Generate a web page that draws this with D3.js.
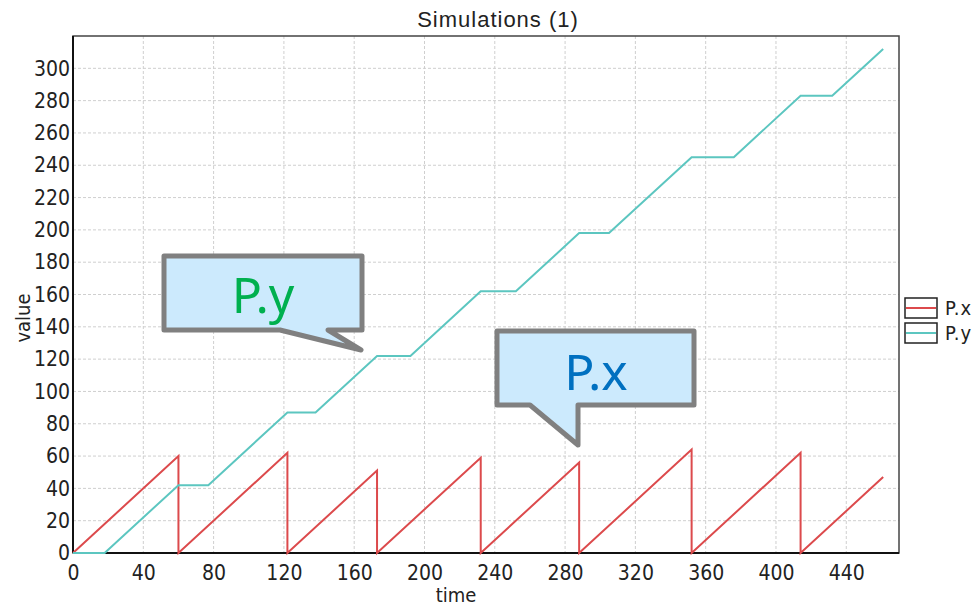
<!DOCTYPE html>
<meta charset="utf-8">
<style>
body { margin: 0; background: #fff; }
.tick text { font-family: "Liberation Sans Narrow", "DejaVu Sans Condensed", sans-serif; font-size: 21px; fill: #222; }
.axis path, .axis line { display: none; }
.grid line { stroke: #cfcfcf; stroke-dasharray: 3,2; }
.lbl { font-family: "Liberation Sans Narrow", "DejaVu Sans Condensed", sans-serif; font-size: 20px; fill: #222; }
.title { font-family: "Liberation Sans", Arial, sans-serif; font-size: 22px; letter-spacing: 1px; fill: #222; }
.callout text { font-family: "Noto Sans", "Open Sans", sans-serif; font-size: 50px; }
</style>
<svg width="980" height="606"></svg>
<script src="https://d3js.org/d3.v7.min.js"></script>
<script>

// P.x : sawtooth (time, value)
var pxTime  = [0, 60, 60, 122, 122, 173, 173, 232, 232, 288, 288, 352, 352, 414, 414, 461];
var pxValue = [0, 60,  0,  62,   0,  51,   0,  59,   0,  56,   0,  64,   0,  62,   0,  47];

// P.y : staircase ramp
var pyTime  = [0, 18, 60, 77, 122, 138, 173, 192, 232, 252, 288, 305, 352, 376, 414, 432, 461];
var pyValue = [0,  0, 42, 42,  87,  87, 122, 122, 162, 162, 198, 198, 245, 245, 283, 283, 312];

var seriesNames = ["P.x", "P.y"];
var seriesColors = ["#dc4a4c", "#5cc6c0"];
var xTicks = d3.range(0, 441, 40);
var yTicks = d3.range(0, 301, 20);

var svg = d3.select("svg"),
    margin = {top: 36, right: 81, bottom: 53, left: 73},
    width = +svg.attr("width") - margin.left - margin.right,
    height = +svg.attr("height") - margin.top - margin.bottom;

var x = d3.scaleLinear().domain([0, 470]).range([0, width]),
    y = d3.scaleLinear().domain([0, 320]).range([height, 0]);

var g = svg.append("g")
    .attr("transform", "translate(" + margin.left + "," + margin.top + ")");

// grid
g.append("g").attr("class", "grid")
  .selectAll("line").data(xTicks).enter().append("line")
    .attr("x1", function(d) { return x(d); }).attr("x2", function(d) { return x(d); })
    .attr("y1", 0).attr("y2", height);
g.append("g").attr("class", "grid")
  .selectAll("line").data(yTicks).enter().append("line")
    .attr("y1", function(d) { return y(d); }).attr("y2", function(d) { return y(d); })
    .attr("x1", 0).attr("x2", width);

// frame
g.append("rect")
    .attr("width", width).attr("height", height)
    .attr("fill", "none").attr("stroke", "#444").attr("stroke-width", 1.5);

g.append("g")
    .attr("class", "axis")
    .attr("transform", "translate(0," + height + ")")
    .call(d3.axisBottom(x).tickValues(xTicks).tickSize(0).tickPadding(12));

g.append("g")
    .attr("class", "axis")
    .call(d3.axisLeft(y).tickValues(yTicks).tickSize(0).tickPadding(3));

g.append("line").attr("x1", 0).attr("x2", 0).attr("y1", 0).attr("y2", height)
    .attr("stroke", "#111").attr("stroke-width", 2);
g.append("line").attr("x1", 0).attr("x2", width).attr("y1", height).attr("y2", height)
    .attr("stroke", "#111").attr("stroke-width", 2);

// lines
var line = d3.line()
    .x(function(d) { return x(d[0]); })
    .y(function(d) { return y(d[1]); });

var series = [d3.zip(pxTime, pxValue), d3.zip(pyTime, pyValue)];

g.selectAll(".series")
  .data(series)
  .enter().append("path")
    .attr("class", "series")
    .attr("fill", "none")
    .attr("stroke", function(d, i) { return seriesColors[i]; })
    .attr("stroke-width", 2)
    .attr("d", line);

// labels
svg.append("text").attr("class", "title")
    .attr("x", 498).attr("y", 27).attr("text-anchor", "middle")
    .text("Simulations (1)");

svg.append("text").attr("class", "lbl")
    .attr("x", 456).attr("y", 602).attr("text-anchor", "middle")
    .text("time");

svg.append("text").attr("class", "lbl")
    .attr("transform", "translate(30,318) rotate(-90)")
    .attr("text-anchor", "middle")
    .text("value");

// legend
var legend = svg.selectAll(".legend")
  .data(seriesNames)
  .enter().append("g")
    .attr("transform", function(d, i) { return "translate(905," + (298 + i * 25) + ")"; });

legend.append("rect")
    .attr("width", 32).attr("height", 20)
    .attr("fill", "#fff").attr("stroke", "#222").attr("stroke-width", 1.5);
legend.append("line")
    .attr("x1", 1).attr("x2", 31).attr("y1", 10).attr("y2", 10)
    .attr("stroke", function(d, i) { return seriesColors[i]; })
    .attr("stroke-width", 2);
legend.append("text").attr("class", "lbl")
    .attr("x", 40).attr("y", 17)
    .style("letter-spacing", "1px")
    .text(function(d) { return d; });

// callouts
function callout(pts, label, color, tx, ty) {
  var c = svg.append("g").attr("class", "callout");
  c.append("path")
      .attr("d", "M" + pts.join("L") + "Z")
      .attr("fill", "#cceafd").attr("stroke", "#808080")
      .attr("stroke-width", 5).attr("stroke-linejoin", "round");
  c.append("text")
      .attr("x", tx).attr("y", ty).attr("text-anchor", "middle")
      .attr("fill", color).text(label);
}

callout([[164, 256], [362, 256], [362, 330], [328, 330], [361, 350], [280, 330], [164, 330]],
        "P.y", "#00b04f", 263, 313);
callout([[497, 331], [694, 331], [694, 405], [578, 405], [578, 445], [530, 405], [497, 405]],
        "P.x", "#0070c0", 596, 390);

</script>
